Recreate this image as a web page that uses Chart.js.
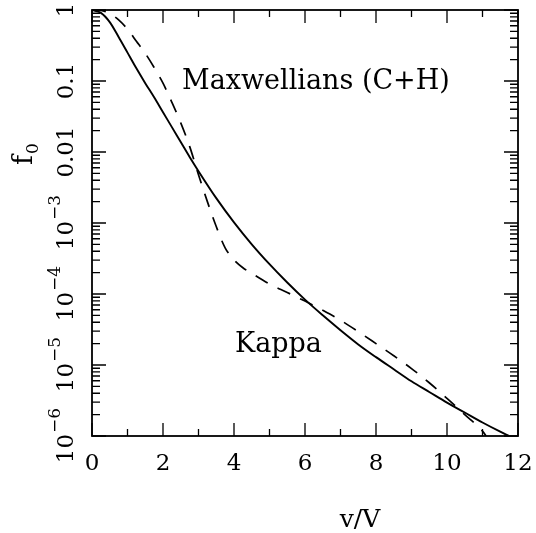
<!DOCTYPE html>
<html lang="en">
<head>
    <meta charset="UTF-8">
    <title>f0 versus v/V</title>
    <script src="https://cdn.jsdelivr.net/npm/chart.js"></script>
    <style>
        html, body { margin: 0; padding: 0; background: #fff; }
        #wrap { width: 536px; height: 533px; }
    </style>
</head>
<body>
    <div id="wrap"><canvas id="chart" width="536" height="533"></canvas></div>

    <script>
        // Kappa distribution (solid)
        const kappaV = [0, 0.25, 0.5, 0.75, 1.0, 1.25, 1.5, 1.75, 2.0, 2.25, 2.5, 2.75, 3.0, 3.5, 4.0, 4.5, 5.0,
                        5.5, 6.0, 6.5, 7.0, 7.5, 8.0, 8.5, 9.0, 9.5, 10.0, 10.5, 11.0, 11.5, 11.75];
        const kappaF = [1, 0.912, 0.676, 0.417, 0.251, 0.151, 0.0933, 0.0589, 0.0363, 0.0224, 0.0138, 8.51e-3,
                        5.37e-3, 2.24e-3, 1.02e-3, 5.01e-4, 2.63e-4, 1.45e-4, 8.32e-5, 5.01e-5, 3.09e-5, 1.95e-5,
                        1.29e-5, 8.71e-6, 5.89e-6, 4.17e-6, 2.95e-6, 2.14e-6, 1.55e-6, 1.15e-6, 1.0e-6];

        // Sum of Maxwellians, core + halo (dashed)
        const maxwV = [0, 0.25, 0.5, 0.75, 1.0, 1.25, 1.5, 1.75, 2.0, 2.25, 2.5, 2.75, 3.0, 3.25, 3.5, 3.75,
                       4.0, 4.25, 4.5, 5.0, 5.5, 6.0, 6.5, 7.0, 7.5, 8.0, 8.5, 9.0, 9.5, 10.0, 10.5, 11.0, 11.1];
        const maxwF = [1, 0.99, 0.891, 0.724, 0.537, 0.363, 0.245, 0.155, 0.0933, 0.0501, 0.0257, 0.0120,
                       4.79e-3, 2.00e-3, 8.91e-4, 4.47e-4, 3.02e-4, 2.34e-4, 1.95e-4, 1.38e-4, 1.05e-4, 7.94e-5,
                       5.89e-5, 4.27e-5, 2.95e-5, 2.00e-5, 1.35e-5, 8.91e-6, 5.62e-6, 3.39e-6, 2.00e-6, 1.17e-6, 1.0e-6];

        // Axis ticks
        const xTicks = [0, 2, 4, 6, 8, 10, 12];
        const xMinor = [1, 3, 5, 7, 9, 11];
        const yTicks = [1, 0.1, 0.01, 1e-3, 1e-4, 1e-5, 1e-6];
        const yTickBase = ['1', '0.1', '0.01', '10', '10', '10', '10'];
        const yTickExp = ['', '', '', '\u22123', '\u22124', '\u22125', '\u22126'];

        const SERIF = '"DejaVu Serif", serif';

        function toPoints(xs, ys) {
            return xs.map((x, i) => ({ x: x, y: ys[i] }));
        }

        // Frame, inward ticks, labels and annotations
        const framePlugin = {
            id: 'frame',
            afterDraw(chart) {
                const ctx = chart.ctx;
                const a = chart.chartArea;
                const xs = chart.scales.x;
                const ys = chart.scales.y;
                ctx.save();
                ctx.strokeStyle = '#000';
                ctx.fillStyle = '#000';

                ctx.lineWidth = 1.8;
                ctx.strokeRect(a.left, a.top, a.right - a.left, a.bottom - a.top);

                ctx.lineWidth = 1.3;
                ctx.beginPath();
                const tickX = (v, len) => {
                    const px = xs.getPixelForValue(v);
                    ctx.moveTo(px, a.bottom); ctx.lineTo(px, a.bottom - len);
                    ctx.moveTo(px, a.top); ctx.lineTo(px, a.top + len);
                };
                const tickY = (v, len) => {
                    const py = ys.getPixelForValue(v);
                    ctx.moveTo(a.left, py); ctx.lineTo(a.left + len, py);
                    ctx.moveTo(a.right, py); ctx.lineTo(a.right - len, py);
                };
                xTicks.forEach(v => tickX(v, 13));
                xMinor.forEach(v => tickX(v, 7));
                yTicks.forEach(v => tickY(v, 14));
                yTicks.slice(1).forEach(d => {
                    for (let m = 2; m <= 9; m++) tickY(m * d, 8);
                });
                ctx.stroke();

                // x tick labels
                ctx.font = '23px ' + SERIF;
                ctx.textAlign = 'center';
                ctx.textBaseline = 'alphabetic';
                xTicks.forEach(v => ctx.fillText(String(v), xs.getPixelForValue(v), 470));

                // y tick labels, rotated
                yTicks.forEach((v, i) => {
                    const py = ys.getPixelForValue(v);
                    ctx.save();
                    ctx.translate(73, py);
                    ctx.rotate(-Math.PI / 2);
                    ctx.textAlign = 'left';
                    ctx.font = '23px ' + SERIF;
                    const wb = ctx.measureText(yTickBase[i]).width;
                    ctx.font = '17px ' + SERIF;
                    const we = yTickExp[i] ? ctx.measureText(yTickExp[i]).width : 0;
                    const start = -(wb + we) / 2;
                    ctx.font = '23px ' + SERIF;
                    ctx.fillText(yTickBase[i], start, 0);
                    if (yTickExp[i]) {
                        ctx.font = '17px ' + SERIF;
                        ctx.fillText(yTickExp[i], start + wb + 1, -13);
                    }
                    ctx.restore();
                });

                // y axis title f0
                ctx.save();
                ctx.translate(32, 165);
                ctx.rotate(-Math.PI / 2);
                ctx.textAlign = 'left';
                ctx.font = '27px ' + SERIF;
                ctx.fillText('f', 0, 0);
                const wf = ctx.measureText('f').width;
                ctx.font = '17px ' + SERIF;
                ctx.fillText('0', wf + 1, 6);
                ctx.restore();

                // x axis title
                ctx.font = '25px ' + SERIF;
                ctx.textAlign = 'center';
                ctx.fillText('v/V', 360, 527);

                // curve annotations
                ctx.font = '27px ' + SERIF;
                ctx.textAlign = 'left';
                ctx.fillText('Maxwellians (C+H)', 182, 89);
                ctx.fillText('Kappa', 235, 352);

                ctx.restore();
            }
        };

        new Chart(document.getElementById('chart').getContext('2d'), {
            type: 'line',
            data: {
                datasets: [
                    {
                        label: 'Kappa',
                        data: toPoints(kappaV, kappaF),
                        borderColor: '#000',
                        borderWidth: 1.9,
                        pointRadius: 0,
                        fill: false,
                        cubicInterpolationMode: 'monotone'
                    },
                    {
                        label: 'Maxwellians (C+H)',
                        data: toPoints(maxwV, maxwF),
                        borderColor: '#000',
                        borderWidth: 1.7,
                        borderDash: [14, 11],
                        pointRadius: 0,
                        fill: false,
                        cubicInterpolationMode: 'monotone'
                    }
                ]
            },
            options: {
                responsive: false,
                animation: false,
                layout: { padding: { left: 92, top: 10, right: 18, bottom: 97 } },
                plugins: { legend: { display: false }, tooltip: { enabled: false } },
                scales: {
                    x: { type: 'linear', min: 0, max: 12, display: false },
                    y: { type: 'logarithmic', min: 1e-6, max: 1, display: false }
                }
            },
            plugins: [framePlugin]
        });
    </script>
</body>
</html>
